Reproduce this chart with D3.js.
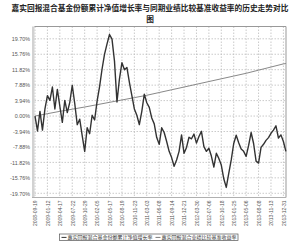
<!DOCTYPE html>
<html>
<head>
<meta charset="utf-8">
<script src="https://cdn.jsdelivr.net/npm/d3@7"></script>
<style>
  html, body { margin: 0; padding: 0; background: #fff; }
  svg { display: block; font-family: "Noto Sans CJK SC", "Noto Sans", sans-serif; }
</style>
</head>
<body>
<div id="chart"></div>
<script>
const title1 = "嘉实回报混合基金份额累计净值增长率与同期业绩比较基准收益率的历史走势对比";
const title2 = "图";
const navName = "嘉实回报混合基金份额累计净值增长率";
const benchName = "嘉实回报混合业绩比较基准收益率";

// x tick labels (dates)
const dates = [
  "2008-09-19", "2009-01-12", "2009-04-17", "2009-07-22", "2009-10-29",
  "2010-02-05", "2010-05-17", "2010-08-19", "2010-11-23", "2011-03-03",
  "2011-06-08", "2011-09-14", "2011-12-21", "2012-03-30", "2012-07-06",
  "2012-10-18", "2013-01-25", "2013-05-06", "2013-08-08", "2013-11-13",
  "2013-12-31"
];

const yTicks = [19.70, 15.76, 11.82, 7.88, 3.94, 0, -3.94, -7.88, -11.82, -15.76, -19.70];

// cumulative NAV growth (%), sampled every 1/5 of a tick interval
const navVals = [
  0.0, -3.8, 1.2, -3.6, 1.8, 5.2, 4.0, 7.4, 1.8, 6.8,
  2.5, -1.6, 4.0, 0.9, 3.5, 7.8, 3.2, -2.2, -0.8, -5.0,
  -9.0, -3.0, -4.5, 0.2, -1.0, 3.8, 7.5, 12.0, 15.8, 18.4,
  20.8, 19.6, 14.0, 3.6, 9.5, 13.6, 11.8, 12.4, 8.6, 5.2,
  1.8, 0.2, -2.2, 1.2, 5.6, 3.4, 2.2, -0.5, -2.0, -5.5,
  -7.2, -3.0, -4.2, -6.5, -9.0, -10.6, -12.8, -11.2, -9.0, -4.8,
  -9.5, -8.0, -5.4, -5.8, -4.6, -6.9, -5.2, -3.9, -7.8, -9.0,
  -8.2, -10.2, -13.0, -9.5, -10.8, -12.5, -16.0, -18.2, -14.6, -11.2,
  -7.0, -4.9, -6.8, -8.4, -9.0, -10.3, -7.5, -4.2, -7.0, -11.5,
  -12.0, -8.0, -7.2, -6.2, -5.5, -4.4, -3.6, -2.5, -5.6, -4.8,
  -6.5, -9.0
];

// benchmark return (%) at each date tick, last value at series end
const benchVals = [
  0.0, 0.6, 1.2, 1.75, 2.3, 2.9, 3.5, 4.1, 4.7, 5.3,
  6.0, 6.7, 7.4, 8.1, 8.8, 9.5, 10.2, 10.9, 11.7, 12.5,
  13.3, 13.4
];

const W = 300, H = 241;
const plot = { left: 34.5, right: 286, top: 26.5, bottom: 197.5 };

const svg = d3.select("#chart").append("svg")
  .attr("width", W)
  .attr("height", H);

const x = d3.scaleLinear().domain([0, dates.length - 1]).range([35, 283.4]);
const y = d3.scaleLinear().domain([-19.70, 19.70]).range([193.3, 38.8]);

const step = 0.2;

// title
svg.append("text")
  .attr("x", W / 2).attr("y", 11)
  .attr("text-anchor", "middle")
  .attr("font-size", 7.7).attr("font-weight", "bold").attr("fill", "#222")
  .text(title1);
svg.append("text")
  .attr("x", W / 2).attr("y", 21.8)
  .attr("text-anchor", "middle")
  .attr("font-size", 7.7).attr("font-weight", "bold").attr("fill", "#222")
  .text(title2);

// grid
svg.append("g").selectAll("line")
  .data(yTicks)
  .join("line")
  .attr("x1", plot.left).attr("x2", plot.right)
  .attr("y1", d => y(d)).attr("y2", d => y(d))
  .attr("stroke", "#bdbdbd").attr("stroke-width", 0.8)
  .attr("stroke-dasharray", "1.5,1.5");

svg.append("g").selectAll("line")
  .data(dates)
  .join("line")
  .attr("x1", (d, i) => x(i)).attr("x2", (d, i) => x(i))
  .attr("y1", plot.top).attr("y2", plot.bottom)
  .attr("stroke", "#bdbdbd").attr("stroke-width", 0.8)
  .attr("stroke-dasharray", "1.5,1.5");

// frame
svg.append("rect")
  .attr("x", 32).attr("y", plot.top)
  .attr("width", 2.5).attr("height", plot.bottom - plot.top)
  .attr("fill", "#d2d2d2");
svg.append("path")
  .attr("d", `M${plot.left},${plot.top}H${plot.right}V${plot.bottom}`)
  .attr("fill", "none").attr("stroke", "#999").attr("stroke-width", 1);
svg.append("line")
  .attr("x1", 32).attr("x2", plot.right)
  .attr("y1", plot.bottom).attr("y2", plot.bottom)
  .attr("stroke", "#b0b0b0").attr("stroke-width", 1);

// y axis labels
const yAxis = svg.append("g")
  .attr("transform", "translate(30,0)")
  .call(d3.axisLeft(y).tickValues(yTicks).tickSize(0).tickPadding(0)
    .tickFormat(d => d.toFixed(2) + "%"));
yAxis.select(".domain").remove();
yAxis.selectAll("text")
  .attr("font-size", 5.4).attr("fill", "#555")
  .attr("font-family", "\"Liberation Sans\", sans-serif");

// x axis labels
const xAxis = svg.append("g")
  .attr("transform", `translate(0,${plot.bottom + 3})`)
  .call(d3.axisBottom(x).tickValues(d3.range(dates.length)).tickSize(0).tickPadding(0)
    .tickFormat(i => dates[i]));
xAxis.select(".domain").remove();
xAxis.selectAll("text")
  .attr("font-size", 5).attr("fill", "#555")
  .attr("font-family", "\"Liberation Sans\", sans-serif")
  .attr("text-anchor", "end")
  .attr("dy", "0.35em")
  .attr("transform", "rotate(-90)");

// series
const benchX = i => i < dates.length ? i : (navVals.length - 1) * step;
svg.append("path")
  .datum(benchVals)
  .attr("fill", "none").attr("stroke", "#7a7a7a").attr("stroke-width", 0.9)
  .attr("d", d3.line().x((d, i) => x(benchX(i))).y(d => y(d)));

svg.append("path")
  .datum(navVals)
  .attr("fill", "none").attr("stroke", "#333").attr("stroke-width", 1.4)
  .attr("stroke-linejoin", "round")
  .attr("d", d3.line().x((d, i) => x(i * step)).y(d => y(d)));

// legend
const lg = svg.append("g");
lg.append("rect")
  .attr("x", 59.5).attr("y", 234)
  .attr("width", 178.5).attr("height", 6.5)
  .attr("fill", "#fff").attr("stroke", "#555").attr("stroke-width", 0.7);
const items = [
  { name: navName, color: "#333", x0: 61.5 },
  { name: benchName, color: "#7a7a7a", x0: 155.5 }
];
items.forEach(it => {
  lg.append("line")
    .attr("x1", it.x0).attr("x2", it.x0 + 5)
    .attr("y1", 237.4).attr("y2", 237.4)
    .attr("stroke", it.color).attr("stroke-width", 1);
  lg.append("text")
    .attr("x", it.x0 + 6).attr("y", 239.3)
    .attr("font-size", 5).attr("fill", "#333")
    .text(it.name);
});
</script>
</body>
</html>
